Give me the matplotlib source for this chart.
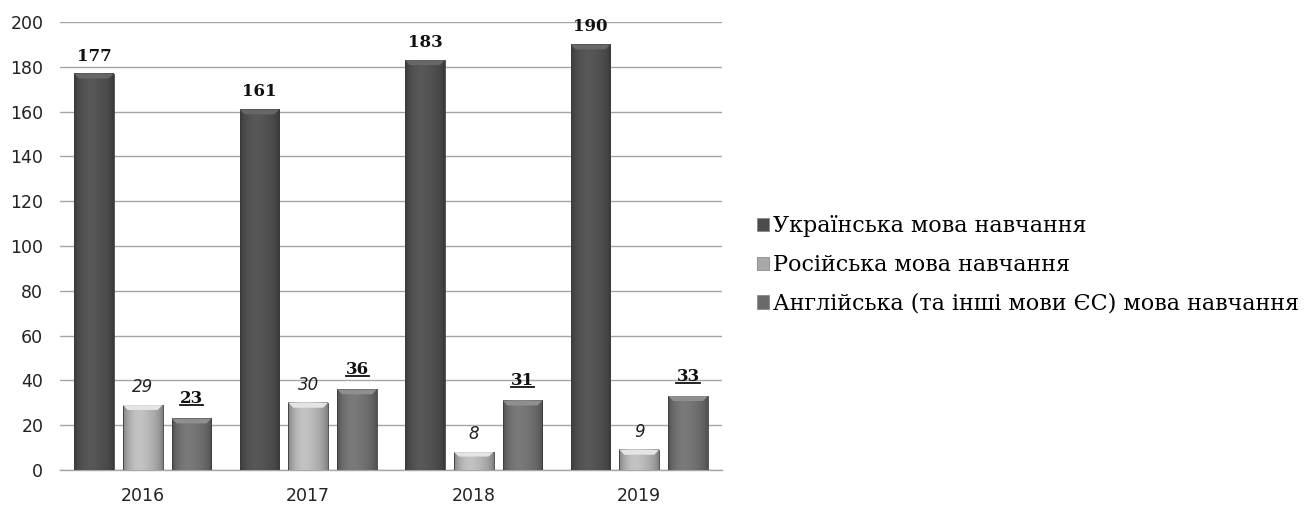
"""Bar chart: number of students by language of instruction, 2016-2019."""
import numpy as np
import matplotlib
matplotlib.use("Agg")
import matplotlib.pyplot as plt
from matplotlib.patches import Patch
from matplotlib.lines import Line2D

years = ["2016", "2017", "2018", "2019"]
ukrainian = [177, 161, 183, 190]
russian = [29, 30, 8, 9]
english = [23, 36, 31, 33]
series_names = [
    "Українська мова навчання",
    "Російська мова навчання",
    "Англійська (та інші мови ЄС) мова навчання",
]
yticks = list(range(0, 201, 20))

fig = plt.figure(figsize=(13.09, 5.05), dpi=100)
ax = fig.add_axes([0.0458, 0.0693, 0.5058, 0.8871])

x = np.arange(len(years))
width = 0.24
step = 0.295
colors = ["#4c4c4c", "#a9a9a9", "#6a6a6a"]


def shaded_bar(ax, xc, h, color):
    """Bar with a horizontal light/dark gradient and a lighter top bevel."""
    base = np.array(matplotlib.colors.to_rgb(color))
    t = np.linspace(0, 1, 64)
    shade = 1.0 + 0.15 * np.exp(-((t - 0.4) / 0.3) ** 2) - 0.25 * (np.abs(t - 0.5) * 2) ** 4
    img = np.clip(base[None, :] * shade[:, None], 0, 1)[None, :, :]
    left = xc - width / 2
    ax.imshow(img, extent=[left, left + width, 0, h], aspect="auto",
              interpolation="bilinear", zorder=3)
    ax.add_patch(plt.Rectangle((left, 0), width, h, fill=False,
                               edgecolor="#3a3a3a", linewidth=0.6, zorder=4))
    top = min(2.2, h * 0.25)
    bevel = plt.Polygon([(left, h), (left + width, h),
                         (left + width - 0.03, h - top), (left + 0.03, h - top)],
                        closed=True, facecolor=np.clip(base * 1.35, 0, 1),
                        edgecolor="none", zorder=4)
    ax.add_patch(bevel)


underlined = []
for i in range(len(years)):
    for j, (vals, c) in enumerate(zip([ukrainian, russian, english], colors)):
        xc = x[i] + (j - 1) * step
        shaded_bar(ax, xc, vals[i], c)

    xc = x[i] - step
    ax.text(xc, ukrainian[i] + 4, str(ukrainian[i]), ha="center", va="bottom",
            fontsize=12, fontweight="bold", family="DejaVu Serif", color="#111111")
    ax.text(x[i], russian[i] + 4, str(russian[i]), ha="center", va="bottom",
            fontsize=12, fontstyle="italic", family="DejaVu Sans", color="#222222")
    t = ax.text(x[i] + step, english[i] + 5, str(english[i]), ha="center", va="bottom",
                fontsize=12, fontweight="bold", family="DejaVu Serif", color="#111111")
    underlined.append(t)

ax.set_xlim(-0.5, len(years) - 0.5)
ax.set_ylim(0, 200)
ax.set_yticks(yticks)
ax.set_xticks(x)
ax.set_xticklabels(years)
ax.tick_params(axis="both", length=0, labelsize=12.5, colors="#222222")
ax.tick_params(axis="x", pad=12)
ax.tick_params(axis="y", pad=12)
ax.yaxis.grid(True, color="#a6a6a6", linewidth=1.0, zorder=0)
ax.set_axisbelow(True)
for side in ["top", "right", "left"]:
    ax.spines[side].set_visible(False)
ax.spines["bottom"].set_color("#a6a6a6")
ax.spines["bottom"].set_linewidth(1.0)

handles = [Patch(facecolor=c, edgecolor="#888888", linewidth=0.6) for c in colors]
fig.legend(handles, series_names, loc="center left", bbox_to_anchor=(0.563, 0.475),
           frameon=False, prop={"family": "DejaVu Serif", "size": 16},
           handlelength=0.55, handleheight=0.55, handletextpad=0.15, labelspacing=0.75)

# underline the English-series labels
fig.canvas.draw()
renderer = fig.canvas.get_renderer()
for t in underlined:
    bb = t.get_window_extent(renderer).transformed(fig.transFigure.inverted())
    y0 = bb.y0 + 2 / fig.bbox.height
    fig.add_artist(Line2D([bb.x0, bb.x1], [y0, y0], transform=fig.transFigure,
                          color="#111111", linewidth=1.3))

fig.savefig("out.png", dpi=100)
